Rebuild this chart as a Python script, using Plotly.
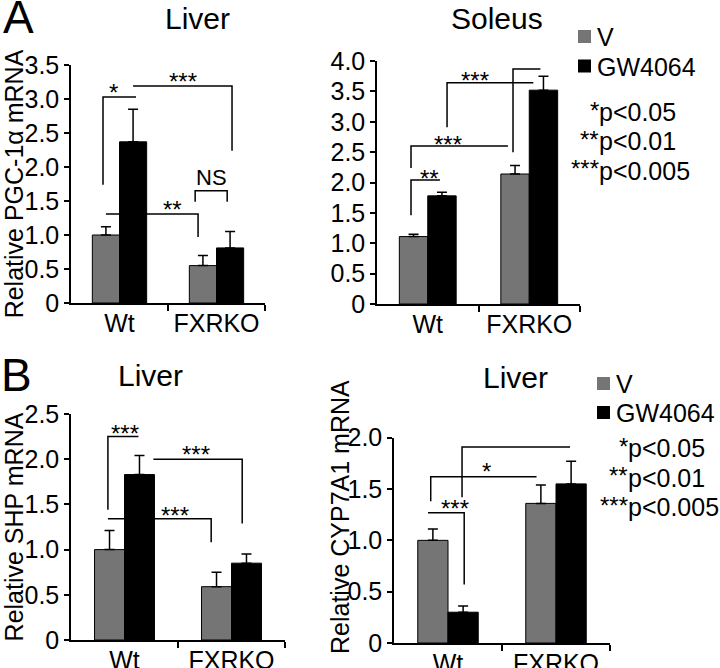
import plotly.graph_objects as go

FONT = "Liberation Sans, Arial, sans-serif"
GREY = "#757575"

groups = ["Wt", "FXRKO"]
treatments = ["V", "GW4064"]
colors = [GREY, "black"]

# A - liver PGC-1a
pgc_v = [1.00, 0.55]
pgc_v_err = [0.12, 0.15]
pgc_gw = [2.37, 0.81]
pgc_gw_err = [0.48, 0.24]

# A - soleus PGC-1a
sol_v = [1.11, 2.14]
sol_v_err = [0.04, 0.14]
sol_gw = [1.78, 3.52]
sol_gw_err = [0.06, 0.23]

# B - liver SHP
shp_v = [1.00, 0.59]
shp_v_err = [0.21, 0.16]
shp_gw = [1.83, 0.85]
shp_gw_err = [0.21, 0.10]

# B - liver CYP7A1
cyp_v = [1.00, 1.36]
cyp_v_err = [0.11, 0.18]
cyp_gw = [0.30, 1.55]
cyp_gw_err = [0.06, 0.22]

# significance brackets: (x points, y points, label, label x, label y)
brackets = {
    1: [
        ([-0.17, -0.17, 0.17], [1.74, 3.03, 3.03], "*", -0.06, 3.18),
        ([0.14, 1.16, 1.16], [3.19, 3.19, 2.24], "***", 0.65, 3.35),
        ([-0.14, 0.81, 0.81], [1.31, 1.31, 0.97], "**", 0.55, 1.46),
        ([0.78, 0.78, 1.11, 1.11], [1.49, 1.65, 1.65, 1.49], "NS", 0.95, 1.84),
    ],
    2: [
        ([-0.165, -0.165, 0.12], [1.46, 2.04, 2.04], "**", 0.02, 2.17),
        ([-0.165, -0.165, 0.79], [2.24, 2.60, 2.60], "***", 0.20, 2.73),
        ([0.19, 0.19, 1.04], [2.91, 3.64, 3.64], "***", 0.47, 3.78),
        ([0.84, 0.84, 1.11], [2.50, 3.87, 3.87], "**", 1.00, 4.02),
    ],
    3: [
        ([-0.155, -0.155, 0.13], [1.44, 2.25, 2.25], "***", 0.005, 2.35),
        ([0.27, 1.10, 1.10], [2.00, 2.00, 1.29], "***", 0.67, 2.12),
        ([-0.155, 0.81, 0.81], [1.34, 1.34, 1.08], "***", 0.47, 1.44),
    ],
    4: [
        ([-0.185, 0.15, 0.15], [1.27, 1.27, 0.57], "***", 0.065, 1.37),
        ([-0.16, -0.16, 0.82], [1.38, 1.62, 1.62], "*", 0.36, 1.73),
        ([0.13, 0.13, 1.13], [1.42, 1.91, 1.91], "***", 0.57, 2.02),
    ],
}

panels = [
    (1, pgc_v, pgc_v_err, pgc_gw, pgc_gw_err),
    (2, sol_v, sol_v_err, sol_gw, sol_gw_err),
    (3, shp_v, shp_v_err, shp_gw, shp_gw_err),
    (4, cyp_v, cyp_v_err, cyp_gw, cyp_gw_err),
]

fig = go.Figure()

for n, v, v_err, gw, gw_err in panels:
    xa = "x" if n == 1 else f"x{n}"
    ya = "y" if n == 1 else f"y{n}"
    for name, vals, err, col in zip(treatments, [v, gw], [v_err, gw_err], colors):
        fig.add_trace(go.Bar(
            x=[0, 1], y=vals, name=name, xaxis=xa, yaxis=ya,
            marker=dict(color=col, line=dict(color="black", width=1)),
            error_y=dict(type="data", array=err, arrayminus=[0, 0], symmetric=False,
                         color="black", thickness=1.5, width=5),
            showlegend=False, hoverinfo="skip",
        ))
    for bx, by, label, lx, ly in brackets[n]:
        fig.add_trace(go.Scatter(
            x=bx, y=by, mode="lines", xaxis=xa, yaxis=ya,
            line=dict(color="black", width=1.5), showlegend=False,
            hoverinfo="skip", cliponaxis=False,
        ))
        fig.add_annotation(
            x=lx, y=ly, xref=xa, yref=ya, text=label, showarrow=False,
            font=dict(size=24 if label != "NS" else 22, color="black"),
            yshift=-6 if label != "NS" else 0,
        )

# axes geometry (paper fractions for 720 x 668)
doms = {
    1: ([71 / 720, 265 / 720], [1 - 303 / 668, 1 - 65 / 668], [0, 3.5], 0.5),
    2: ([377 / 720, 580 / 720], [1 - 304 / 668, 1 - 61 / 668], [0, 4.0], 0.5),
    3: ([71 / 720, 285 / 720], [1 - 640 / 668, 1 - 414 / 668], [0, 2.5], 0.5),
    4: ([394 / 720, 610 / 720], [1 - 643 / 668, 1 - 437.7 / 668], [0, 2.0], 0.5),
}
ytitles = {1: "Relative PGC-1α mRNA", 2: "", 3: "Relative SHP mRNA", 4: ""}

layout = {}
for n, (xd, yd, yr, dt) in doms.items():
    sfx = "" if n == 1 else str(n)
    ya = "y" if n == 1 else f"y{n}"
    xa = "x" if n == 1 else f"x{n}"
    tv = [i * dt for i in range(int(round(yr[1] / dt)) + 1)]
    layout["xaxis" + sfx] = dict(
        domain=xd, anchor=ya, range=[-0.5, 1.5], tickvals=[0, 1], ticktext=groups,
        ticks="", showline=True, linecolor="black", linewidth=1.5,
        tickfont=dict(size=25, color="black"), showgrid=False, zeroline=False,
        ticklabelstandoff=-3, automargin=False,
        minor=dict(tickvals=[0.5, 1.5], ticks="outside", ticklen=6,
                   tickwidth=1.5, tickcolor="black", showgrid=False),
    )
    layout["yaxis" + sfx] = dict(
        domain=yd, anchor=xa, range=yr, tickvals=tv,
        ticktext=["0" if t == 0 else f"{t:.1f}" for t in tv],
        ticks="outside", ticklen=5, tickwidth=1.5, tickcolor="black",
        showline=True, linecolor="black", linewidth=1.5, automargin=False,
        tickfont=dict(size=25, color="black"), showgrid=False, zeroline=False,
        title=dict(text=ytitles[n], font=dict(size=25, color="black"), standoff=2),
    )

fig.update_layout(
    **layout,
    width=720, height=668,
    margin=dict(l=0, r=0, t=0, b=0, autoexpand=False),
    paper_bgcolor="white", plot_bgcolor="white",
    font=dict(family=FONT, color="black"),
    barmode="group", bargap=0.44, bargroupgap=0,
    showlegend=False,
)

# y title of the CYP7A1 panel sits closer to its tick labels
fig.add_annotation(x=340 / 720, y=1 - 517 / 668, xref="paper", yref="paper",
                   text="Relative CYP7A1 mRNA", textangle=-90, showarrow=False,
                   xanchor="center", yanchor="middle",
                   font=dict(size=25, color="black"))

# titles and panel letters
for txt, px, py, size in [("Liver", 197, 18, 30), ("Soleus", 497, 18, 30),
                          ("Liver", 150, 375, 30), ("Liver", 515, 377, 30),
                          ("A", 18, 17, 46), ("B", 16, 375, 46)]:
    fig.add_annotation(x=px / 720, y=1 - py / 668, xref="paper", yref="paper",
                       text=txt, showarrow=False, font=dict(size=size, color="black"),
                       xanchor="center", yanchor="middle")

# legends (swatch + label) next to the right-hand panels
for sx, sy0, row in [(578, 30, 29.5), (597, 377, 29)]:
    for i, (name, col) in enumerate(zip(treatments, colors)):
        top = sy0 + i * row
        fig.add_shape(type="rect", xref="paper", yref="paper",
                      x0=sx / 720, x1=(sx + 13) / 720,
                      y0=1 - (top + 13) / 668, y1=1 - top / 668,
                      fillcolor=col, line=dict(width=0))
        fig.add_annotation(x=(sx + 17) / 720, y=1 - (top + 7) / 668,
                           xref="paper", yref="paper", text=name, showarrow=False,
                           font=dict(size=25, color="black"),
                           xanchor="left", yanchor="middle")

# p-value key
for px, py0 in [(599, 112), (628, 448)]:
    for i, (stars, txt) in enumerate([("*", "p<0.05"), ("**", "p<0.01"), ("***", "p<0.005")]):
        yy = 1 - (py0 + i * 29.5) / 668
        fig.add_annotation(x=px / 720, y=yy, xref="paper", yref="paper", text=txt,
                           showarrow=False, font=dict(size=25, color="black"),
                           xanchor="left", yanchor="middle", xshift=-2)
        fig.add_annotation(x=px / 720, y=yy, xref="paper", yref="paper", text=stars,
                           showarrow=False, font=dict(size=24, color="black"),
                           xanchor="right", yanchor="middle", yshift=2, xshift=2)

fig.write_html("out.html", config={"displayModeBar": False},
               post_script="document.body.style.margin='0';")
